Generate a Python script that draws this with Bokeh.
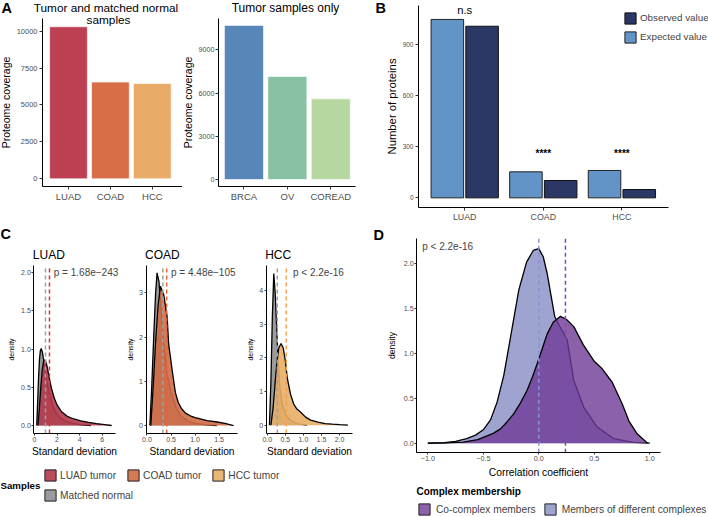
from bokeh.plotting import figure
from bokeh.models import (Range1d, FixedTicker, Label, Legend, LegendItem,
                          ColumnDataSource, LinearAxis)
from bokeh.layouts import row, column
from bokeh.transform import dodge
from bokeh.embed import file_html
from bokeh.resources import INLINE
from bokeh.core.properties import value

FONT = "Liberation Sans"
NAN = float("nan")

# ---------------- data ----------------
a1_cats = ["LUAD", "COAD", "HCC"]
a1_vals = [10300, 6550, 6450]
a1_colors = ["#BC4052", "#D86E48", "#E8AC68"]
a1_ticks = [0, 2500, 5000, 7500, 10000]

a2_cats = ["BRCA", "OV", "COREAD"]
a2_vals = [10700, 7150, 5600]
a2_colors = ["#5786B9", "#88C1A4", "#B7D7A0"]
a2_ticks = [0, 3000, 6000, 9000]

b_cats = ["LUAD", "COAD", "HCC"]
b_expected = [1049, 153, 161]
b_observed = [1009, 102, 49]
b_sig = ["n.s", "****", "****"]
b_sig_y = [1106, 262, 262]
b_ticks = [0, 300, 600, 900]

luad_n_x = [0.2, 0.28, 0.36, 0.44, 0.52, 0.6, 0.7, 0.82, 0.95, 1.1, 1.3, 1.55, 1.85, 2.2, 2.7, 3.3, 4.0, 5.0]
luad_n_y = [0.0, 0.3, 0.62, 0.86, 0.98, 1.01, 0.96, 0.85, 0.72, 0.58, 0.43, 0.29, 0.18, 0.11, 0.06, 0.03, 0.012, 0.0]
luad_t_x = [0.3, 0.42, 0.55, 0.68, 0.8, 0.91, 1.02, 1.15, 1.3, 1.5, 1.75, 2.0, 2.4, 2.9, 3.5, 4.1, 4.8, 5.5, 6.2, 6.84]
luad_t_y = [0.0, 0.2, 0.48, 0.72, 0.84, 0.86, 0.83, 0.75, 0.63, 0.49, 0.36, 0.27, 0.18, 0.12, 0.085, 0.06, 0.04, 0.025, 0.012, 0.0]

coad_n_x = [0.06, 0.1, 0.14, 0.18, 0.21, 0.25, 0.29, 0.34, 0.41, 0.5, 0.6, 0.7, 0.85, 1.0, 1.2, 1.45]
coad_n_y = [0.0, 0.9, 2.0, 3.0, 3.45, 3.25, 2.65, 1.95, 1.2, 0.75, 0.42, 0.22, 0.1, 0.05, 0.02, 0.0]
coad_t_x = [0.08, 0.13, 0.18, 0.23, 0.28, 0.35, 0.42, 0.45, 0.525, 0.59, 0.65, 0.72, 0.8, 0.9, 1.0, 1.11, 1.25, 1.46, 1.62, 1.8]
coad_t_y = [0.0, 0.9, 1.9, 2.7, 3.15, 2.95, 2.45, 1.85, 1.24, 0.75, 0.52, 0.38, 0.28, 0.22, 0.18, 0.15, 0.11, 0.08, 0.05, 0.0]

hcc_n_x = [0.06, 0.1, 0.14, 0.18, 0.22, 0.26, 0.3, 0.35, 0.42, 0.5, 0.6, 0.75, 0.9, 1.1]
hcc_n_y = [0.0, 1.3, 3.2, 4.5, 3.9, 2.9, 1.9, 1.1, 0.6, 0.35, 0.18, 0.08, 0.03, 0.0]
hcc_t_x = [0.1, 0.16, 0.22, 0.27, 0.32, 0.38, 0.44, 0.5, 0.55, 0.64, 0.73, 0.82, 0.92, 1.06, 1.2, 1.4, 1.6, 1.8, 2.0, 2.23]
hcc_t_y = [0.0, 0.5, 1.3, 1.92, 2.3, 2.42, 2.3, 1.92, 1.42, 0.93, 0.63, 0.48, 0.39, 0.24, 0.15, 0.09, 0.05, 0.03, 0.015, 0.0]

c_titles = ["LUAD", "COAD", "HCC"]
c_normal_means = [0.975, 0.33, 0.277]
c_tumor_means = [1.33, 0.41, 0.526]
c_pvals = ["p = 1.68e\u2212243", "p = 4.48e\u2212105", "p < 2.2e-16"]
c_pval_x = [1.71, 0.50, 0.71]
c_pval_y = [2.0, 3.47, 4.54]
c_tumor_fill = ["#B23A4B", "#D26A44", "#E8AE66"]
c_tumor_line = ["#E0303E", "#E8643A", "#F2A24E"]
c_legend = ["LUAD tumor", "COAD tumor", "HCC tumor", "Matched normal"]
c_xticks = [[0, 2, 4, 6], [0.0, 0.5, 1.0, 1.5], [0.0, 0.5, 1.0, 1.5, 2.0]]
c_xlabels = [["0", "2", "4", "6"], ["0.0", "0.5", "1.0", "1.5"], ["0.0", "0.5", "1.0", "1.5", "2.0"]]
c_yticks = [[0.0, 0.5, 1.0, 1.5, 2.0], [0, 1, 2, 3], [0, 1, 2, 3, 4]]
c_ylabels = [["0.0", "0.5", "1.0", "1.5", "2.0"], ["0", "1", "2", "3"], ["0", "1", "2", "3", "4"]]
c_xranges = [(-0.06, 7.18), (-0.02, 1.89), (-0.03, 2.35)]
c_yranges = [(-0.105, 2.096), (-0.18, 3.617), (-0.246, 4.74)]

d_diff_x = [-1.0, -0.85, -0.75, -0.65, -0.57, -0.5, -0.435, -0.375, -0.315, -0.255, -0.18, -0.11, -0.05, 0.0, 0.04, 0.076, 0.144, 0.2, 0.256, 0.315, 0.405, 0.526, 0.676, 0.85, 1.0]
d_diff_y = [0.0, 0.005, 0.02, 0.05, 0.09, 0.15, 0.26, 0.46, 0.76, 1.18, 1.71, 2.02, 2.15, 2.17, 2.08, 1.89, 1.41, 1.28, 1.15, 0.70, 0.40, 0.18, 0.05, 0.01, 0.0]
d_co_x = [-1.0, -0.85, -0.68, -0.55, -0.41, -0.345, -0.285, -0.225, -0.165, -0.105, -0.06, -0.014, 0.03, 0.076, 0.13, 0.195, 0.25, 0.315, 0.4, 0.495, 0.571, 0.661, 0.751, 0.811, 0.886, 0.98]
d_co_y = [0.0, 0.004, 0.012, 0.04, 0.11, 0.16, 0.24, 0.33, 0.45, 0.59, 0.73, 0.89, 1.05, 1.22, 1.35, 1.415, 1.38, 1.30, 1.1, 0.92, 0.83, 0.68, 0.44, 0.25, 0.105, 0.0]
d_means = [0.24, 0.0]
d_xticks = [-1.0, -0.5, 0.0, 0.5, 1.0]
d_xlabels = ["\u22121.0", "\u22120.5", "0.0", "0.5", "1.0"]
d_yticks = [0.0, 0.5, 1.0, 1.5, 2.0]
d_ylabels = ["0.0", "0.5", "1.0", "1.5", "2.0"]
d_legend = ["Co-complex members", "Members of different complexes"]
d_colors = ["#6E3A96", "#9EA3CF"]

TICK_COL = "#4D4D4D"


# ---------------- helpers ----------------
def panel_fig(cell, box, xr, yr):
    """Figure whose frame fills the cell; axes are fixed at the panel edges."""
    cx0, cy0, cx1, cy1 = cell
    bx0, by0, bx1, by1 = box
    W, H = cx1 - cx0, cy1 - cy0
    px0, px1 = bx0 - cx0, bx1 - cx0
    pyt, pyb = by0 - cy0, by1 - cy0
    kx = (px1 - px0) / (xr[1] - xr[0])
    ky = (pyb - pyt) / (yr[1] - yr[0])
    p = figure(width=W, height=H,
               x_range=Range1d(xr[0] - px0 / kx, xr[1] + (W - px1) / kx),
               y_range=Range1d(yr[0] - (H - pyb) / ky, yr[1] + pyt / ky),
               min_border=0, x_axis_location=None, y_axis_location=None,
               toolbar_location=None, output_backend="svg")
    p.outline_line_color = None
    p.grid.visible = False
    xa = LinearAxis(fixed_location=yr[0], bounds=xr)
    ya = LinearAxis(fixed_location=xr[0], bounds=yr)
    p.add_layout(xa, "below")
    p.add_layout(ya, "left")
    return p, xa, ya


def blank_fig(cell):
    cx0, cy0, cx1, cy1 = cell
    p = figure(width=cx1 - cx0, height=cy1 - cy0, x_range=Range1d(0, 1),
               y_range=Range1d(0, 1), min_border=0, x_axis_location=None,
               y_axis_location=None, toolbar_location=None, output_backend="svg")
    p.outline_line_color = None
    p.grid.visible = False
    return p


def lbl(p, cell, rx, ry, text, size, align="left", bold=False):
    cx0, cy0, cx1, cy1 = cell
    p.add_layout(Label(x=rx - cx0, y=cy1 - ry, x_units="screen", y_units="screen",
                       text=text, text_font=FONT, text_font_size=f"{size}px",
                       text_align=align, text_baseline="middle",
                       text_font_style="bold" if bold else "normal",
                       text_color="black"))


def style_axis(ax, tick_size, lab_size, label=None, tick_out=3, standoff=2, lab_standoff=2):
    ax.axis_line_color = "black"
    ax.axis_line_width = 1
    ax.major_tick_line_color = "#333333"
    ax.major_tick_out = tick_out
    ax.major_tick_in = 0
    ax.minor_tick_line_color = None
    ax.major_label_text_font = FONT
    ax.major_label_text_font_size = f"{tick_size}px"
    ax.major_label_text_color = TICK_COL
    ax.major_label_standoff = standoff
    ax.axis_label_text_font = FONT
    ax.axis_label_text_font_style = "normal"
    ax.axis_label_text_font_size = f"{lab_size}px"
    ax.axis_label_text_color = "black"
    ax.axis_label_standoff = lab_standoff
    if label:
        ax.axis_label = label


def key_renderer(p, color, alpha=1.0):
    # legend key only: no visible mark (NaN coordinates)
    return p.quad(left=[NAN], right=[NAN], top=[NAN], bottom=[NAN], fill_color=color,
                  fill_alpha=alpha, line_color="#222222", line_width=1)


# ---------------- Panel A ----------------
A1_CELL = (0, 0, 182, 222)
pa1, xa, ya = panel_fig(A1_CELL, (42, 18, 182, 185.5), (0.38, 3.72), (-488, 10860))
a1_pos = [i + 1 for i in range(len(a1_cats))]
pa1.vbar(x=a1_pos, top=a1_vals, width=0.9, fill_color=a1_colors,
         line_color="white", line_width=0.6)
style_axis(xa, 9.5, 10)
xa.ticker = FixedTicker(ticks=a1_pos)
xa.major_label_overrides = dict(zip(a1_pos, a1_cats))
style_axis(ya, 7.5, 10.5, "Proteome coverage")
ya.ticker = FixedTicker(ticks=a1_ticks)
lbl(pa1, A1_CELL, 1, 7, "A", 14.5, bold=True)
lbl(pa1, A1_CELL, 105.5, 7, "Tumor and matched normal", 11.8, align="center")
lbl(pa1, A1_CELL, 108, 19, "samples", 11.8, align="center")

A2_CELL = (182, 0, 360, 222)
pa2, xa, ya = panel_fig(A2_CELL, (218, 18, 355, 185.5), (0.413, 3.57), (-451, 11180))
a2_pos = [i + 1 for i in range(len(a2_cats))]
pa2.vbar(x=a2_pos, top=a2_vals, width=0.9, fill_color=a2_colors,
         line_color="white", line_width=0.6)
style_axis(xa, 9.5, 10)
xa.ticker = FixedTicker(ticks=a2_pos)
xa.major_label_overrides = dict(zip(a2_pos, a2_cats))
style_axis(ya, 7.2, 10.5, "Proteome coverage", standoff=1, lab_standoff=2)
ya.ticker = FixedTicker(ticks=a2_ticks)
lbl(pa2, A2_CELL, 285, 7, "Tumor samples only", 12, align="center")

# ---------------- Panel B ----------------
B_CELL = (360, 0, 708, 222)
pb, xa, ya = panel_fig(B_CELL, (418, 5, 668, 206.7), (0.412, 3.593), (-55, 1131))
b_pos = [i + 1 for i in range(len(b_cats))]
bsrc = ColumnDataSource(dict(pos=b_pos, expected=b_expected, observed=b_observed,
                             sig=b_sig, sig_y=b_sig_y))
r_exp = pb.vbar(x=dodge("pos", -0.221), top="expected", width=0.414, source=bsrc,
                fill_color="#6394C8", line_color="#222222", line_width=1)
r_obs = pb.vbar(x=dodge("pos", 0.221), top="observed", width=0.414, source=bsrc,
                fill_color="#2B3764", line_color="#111111", line_width=1)
pb.text(x=b_pos[:1], y=b_sig_y[:1], text=b_sig[:1], text_font=value(FONT),
        text_font_size="11.3px", text_align="center", text_baseline="middle")
pb.text(x=b_pos[1:], y=b_sig_y[1:], text=b_sig[1:], text_font=value(FONT),
        text_font_size="10px", text_font_style="bold", text_align="center",
        text_baseline="middle")
style_axis(xa, 8.8, 10)
xa.ticker = FixedTicker(ticks=b_pos)
xa.major_label_overrides = dict(zip(b_pos, b_cats))
style_axis(ya, 6.5, 11.3, "Number of proteins")
ya.ticker = FixedTicker(ticks=b_ticks)
leg_b = Legend(items=[LegendItem(label="Observed value", renderers=[r_obs]),
                      LegendItem(label="Expected value", renderers=[r_exp])],
               location=(623 - 360, 222 - 43.5),
               orientation="vertical", glyph_width=14, glyph_height=14,
               label_height=14, label_standoff=3, spacing=5, padding=0, margin=0,
               border_line_color=None, background_fill_alpha=0,
               label_text_font=FONT, label_text_font_size="9.8px")
pb.add_layout(leg_b)
lbl(pb, B_CELL, 375, 7.5, "B", 14.5, bold=True)

# ---------------- Panel C ----------------
C_CELLS = [(0, 222, 122, 458), (122, 222, 243, 458), (243, 222, 360, 458)]
C_BOXES = [(33.3, 265, 115, 433), (145.5, 265, 237.4, 433), (265.7, 265, 351.7, 433)]
c_data = [(luad_n_x, luad_n_y, luad_t_x, luad_t_y),
          (coad_n_x, coad_n_y, coad_t_x, coad_t_y),
          (hcc_n_x, hcc_n_y, hcc_t_x, hcc_t_y)]
c_figs = []
for i in range(3):
    yr = c_yranges[i]
    p, xa, ya = panel_fig(C_CELLS[i], C_BOXES[i], c_xranges[i], yr)
    nx, ny, tx, ty = c_data[i]
    p.varea(x=nx, y1=0, y2=ny, fill_color="#9B9B9B", fill_alpha=1.0)
    p.line(nx, ny, line_color="black", line_width=1.3)
    p.varea(x=tx, y1=0, y2=ty, fill_color=c_tumor_fill[i], fill_alpha=0.9)
    p.line(tx, ty, line_color="black", line_width=1.3)
    p.segment(x0=[c_normal_means[i]], x1=[c_normal_means[i]], y0=yr[0], y1=yr[1],
              line_color="#A0A0A0", line_dash="4 3", line_width=1.5)
    p.segment(x0=[c_tumor_means[i]], x1=[c_tumor_means[i]], y0=yr[0], y1=yr[1],
              line_color=c_tumor_line[i], line_dash="4 3", line_width=1.5)
    p.add_layout(Label(x=c_pval_x[i], y=c_pval_y[i], text=c_pvals[i],
                       text_font=FONT, text_font_size="10px",
                       text_align="left", text_baseline="middle"))
    style_axis(xa, 7, 10.2, "Standard deviation", tick_out=2, standoff=1, lab_standoff=1)
    xa.ticker = FixedTicker(ticks=c_xticks[i])
    xa.major_label_overrides = {float(t): s for t, s in zip(c_xticks[i], c_xlabels[i])}
    style_axis(ya, 7, 7, "density", tick_out=2, standoff=1, lab_standoff=3)
    ya.ticker = FixedTicker(ticks=c_yticks[i])
    ya.major_label_overrides = {float(t): s for t, s in zip(c_yticks[i], c_ylabels[i])}
    lbl(p, C_CELLS[i], C_BOXES[i][0] - 1, 254, c_titles[i], 12)
    c_figs.append(p)
lbl(c_figs[0], C_CELLS[0], 0, 233, "C", 14.5, bold=True)

# Panel C legend
CL_CELL = (0, 458, 360, 517)
pcl = blank_fig(CL_CELL)
keys_c = [key_renderer(pcl, col, 0.9) for col in c_tumor_fill] + [key_renderer(pcl, "#9B9B9B")]
common_leg = dict(orientation="horizontal", glyph_width=14, glyph_height=14,
                  label_height=14, label_standoff=3, spacing=10, padding=0,
                  margin=0, border_line_color=None, background_fill_alpha=0,
                  label_text_font=FONT, label_text_font_size="10.2px")
pcl.add_layout(Legend(items=[LegendItem(label=c_legend[j], renderers=[keys_c[j]])
                             for j in range(3)],
                      location=(43, 517 - 482), **common_leg))
pcl.add_layout(Legend(items=[LegendItem(label=c_legend[3], renderers=[keys_c[3]])],
                      location=(43, 517 - 502), **common_leg))
lbl(pcl, CL_CELL, 0, 484.7, "Samples", 9.7, bold=True)

# ---------------- Panel D ----------------
D_CELL = (360, 222, 708, 480)
D_YR = (-0.107, 2.28)
pd_, xa, ya = panel_fig(D_CELL, (416.2, 238.3, 660.4, 452.3), (-1.1, 1.1), D_YR)
pd_.varea(x=d_diff_x, y1=0, y2=d_diff_y, fill_color=d_colors[1], fill_alpha=1.0)
pd_.line(d_diff_x, d_diff_y, line_color="black", line_width=1.3)
pd_.varea(x=d_co_x, y1=0, y2=d_co_y, fill_color=d_colors[0], fill_alpha=0.8)
pd_.line(d_co_x, d_co_y, line_color="black", line_width=1.3)
pd_.segment(x0=[d_means[1]], x1=[d_means[1]], y0=D_YR[0], y1=D_YR[1],
            line_color="#8A93D6", line_dash="4 3", line_width=1.5)
pd_.segment(x0=[d_means[0]], x1=[d_means[0]], y0=D_YR[0], y1=D_YR[1],
            line_color="#8E44AD", line_dash="4 3", line_width=1.5)
pd_.add_layout(Label(x=-1.05, y=2.19, text="p < 2.2e-16", text_font=FONT,
                     text_font_size="10px", text_align="left", text_baseline="middle"))
style_axis(xa, 7.2, 10.3, "Correlation coefficient", tick_out=2, standoff=1, lab_standoff=3)
xa.ticker = FixedTicker(ticks=d_xticks)
xa.major_label_overrides = {float(t): s for t, s in zip(d_xticks, d_xlabels)}
style_axis(ya, 7.2, 8.5, "density", tick_out=2, standoff=1, lab_standoff=4)
ya.ticker = FixedTicker(ticks=d_yticks)
ya.major_label_overrides = {float(t): s for t, s in zip(d_yticks, d_ylabels)}
lbl(pd_, D_CELL, 373, 234.5, "D", 14.5, bold=True)

# Panel D legend
DL_CELL = (360, 480, 708, 517)
pdl = blank_fig(DL_CELL)
keys_d = [key_renderer(pdl, d_colors[0], 0.8), key_renderer(pdl, d_colors[1])]
pdl.add_layout(Legend(items=[LegendItem(label=d_legend[j], renderers=[keys_d[j]])
                             for j in range(2)],
                      location=(417 - 360, 1), orientation="horizontal",
                      glyph_width=14, glyph_height=14, label_height=14,
                      label_standoff=5, spacing=7, padding=0, margin=0,
                      border_line_color=None, background_fill_alpha=0,
                      label_text_font=FONT, label_text_font_size="10.2px"))
lbl(pdl, DL_CELL, 416, 491, "Complex membership", 10, bold=True)

layout = column(
    row(pa1, pa2, pb),
    row(column(row(*c_figs), pcl), column(pd_, pdl)),
)

open("out.html", "w").write(file_html(layout, INLINE))
